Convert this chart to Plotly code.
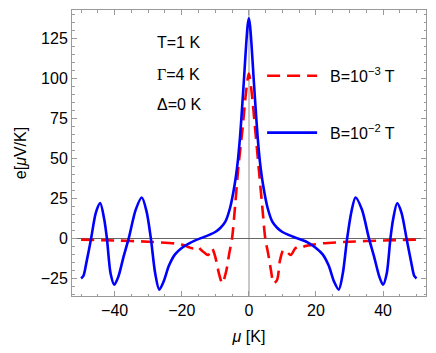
import plotly.graph_objects as go

# Blue curve: B = 1e-2 T
blue_mu = [-50, -49.3, -48.4, -47.0, -45.6, -44.3, -43.1, -42.3, -41.2, -40.1,
           -38.9, -37.4, -35.8, -33.7, -31.9, -30.5, -29.2, -27.9, -26.7, -25.4,
           -23.8, -22.0, -20.0, -17.5, -14.5, -12.0, -10.0, -8.5, -7.0, -5.6,
           -4.2, -3.3, -2.6, -2.0, -1.4, -0.8, -0.35, 0,
           0.35, 0.8, 1.4, 2.0, 2.6, 3.3, 4.2,
           5.6, 7.0, 8.5, 10.0, 12.0, 14.5, 17.5, 20.0, 22.0, 23.8,
           25.4, 26.8, 28.0, 29.3, 30.6, 31.8, 33.7, 35.8, 37.4, 38.9,
           40.0, 41.1, 42.2, 43.0, 44.2, 45.5, 47.0, 48.4, 49.3, 50]
blue_e = [-25, -23.5, -15, 0, 16, 22, 12, 0, -22, -29,
          -24, -12, 0, 18, 25.5, 17, 0, -22, -32, -27,
          -17, -10, -6, -2.8, 0, 2, 4, 6.5, 10.5, 19,
          34, 48, 64, 82, 101, 121, 133, 137.5,
          133, 121, 101, 82, 64, 48, 34,
          19, 10.5, 6.5, 4, 2, 0, -2.5, -6, -10, -17,
          -27, -32, -22, 0, 17, 25.5, 18, 0, -12, -24,
          -29, -22, 0, 12, 22, 16, 0, -15, -23.5, -25]

# Red curve: B = 1e-3 T
red_mu = [-50, -40, -30, -22, -19.5, -17.8, -16.5, -15.3, -14.2, -13.2,
          -12.1, -11.0, -10.0, -8.9, -7.9, -6.8, -5.8, -5.0, -4.1, -3.1,
          -1.9, -0.8, 0,
          0.8, 1.9, 2.9, 4.0, 4.9, 5.8, 6.6, 7.4, 8.4,
          9.3, 10.3, 11.3, 12.5, 13.8, 14.8, 15.8, 16.8, 19.5, 22,
          30, 40, 50]
red_e = [-0.8, -1.3, -2.1, -3.2, -4.2, -5.6, -6.3, -5.2, -7.3, -9.0,
         -10.4, -6.3, -11.5, -22, -28, -21, -9, 0, 20, 45,
         68, 92, 103,
         92, 68, 45, 20, 0, -10, -20, -28, -26,
         -13.6, -7.3, -8.4, -10.4, -6.3, -5.2, -5.6, -4.8, -3.8, -3.1,
         -2.1, -1.3, -0.8]

params = ["T=1 K", "<span style='font-family:Liberation Serif'>Γ</span>=4 K", "Δ=0 K"]
x_ticks = [-40, -20, 0, 20, 40]
y_ticks = [-25, 0, 25, 50, 75, 100, 125]

FONT = "Liberation Sans, Arial, sans-serif"

fig = go.Figure()
fig.add_trace(go.Scatter(x=red_mu, y=red_e, mode="lines", name="\u2002B=10<sup>−3</sup> T",
                         legendgroup="r",
                         line=dict(color="#ff0000", width=2.6, dash="13px,7px",
                                   shape="spline", smoothing=0.8)))
fig.add_trace(go.Scatter(x=blue_mu, y=blue_e, mode="lines", name="\u2002B=10<sup>−2</sup> T",
                         legendgroup="b",
                         line=dict(color="#0000ff", width=2.6, shape="spline", smoothing=0.8)))

axis_common = dict(showgrid=False, showline=True, linecolor="#9a9a9a", linewidth=1,
                   mirror="allticks", ticks="inside", ticklen=5, tickcolor="#9a9a9a",
                   tickwidth=1, tickfont=dict(family=FONT, size=16, color="black"))

fig.update_xaxes(range=[-52.7, 52.8], tickvals=x_ticks,
                 ticktext=["−40", "−20", "0", "20", "40"],
                 zeroline=True, zerolinecolor="#c8c8c8", zerolinewidth=2,
                 minor=dict(dtick=5, tick0=0, ticks="inside", ticklen=2.5, tickcolor="#9a9a9a"),
                 title=dict(text="<i>μ</i> [K]", font=dict(family=FONT, size=16, color="black"),
                            standoff=12),
                 **axis_common)
fig.update_yaxes(range=[-36, 142.7], tickvals=y_ticks,
                 ticktext=["−25", "0", "25", "50", "75", "100", "125"],
                 zeroline=True, zerolinecolor="#666666", zerolinewidth=1,
                 minor=dict(dtick=5, tick0=0, ticks="inside", ticklen=2.5, tickcolor="#9a9a9a"),
                 title=dict(text="e[<i>μ</i>V/K]", font=dict(family=FONT, size=16, color="black"),
                            standoff=10),
                 **axis_common)

for t, yy in zip(params, [0.886, 0.776, 0.668]):
    fig.add_annotation(text=t, xref="paper", yref="paper", x=0.235, y=yy,
                       xanchor="left", yanchor="middle", showarrow=False,
                       font=dict(family=FONT, size=16, color="black"))

# page has an 8px body margin, so the figure is 8px smaller than the window
fig.update_layout(
    width=428, height=345,
    margin=dict(l=64, r=10, t=2, b=57),
    paper_bgcolor="white", plot_bgcolor="white",
    font=dict(family=FONT, size=16, color="black"),
    showlegend=True,
    legend=dict(x=0.537, y=0.829, xanchor="left", yanchor="top",
                bgcolor="rgba(0,0,0,0)", itemwidth=50, tracegroupgap=33,
                font=dict(family=FONT, size=16, color="black")),
)

fig.write_html("out.html")
